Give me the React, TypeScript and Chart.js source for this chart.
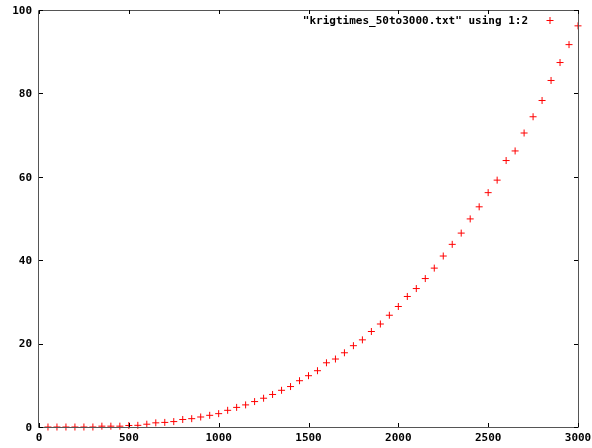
import React, { useEffect, useRef } from "react";
import { Chart, registerables } from "chart.js";

Chart.register(...registerables);

const xValues = [
  50, 100, 150, 200, 250, 300, 350, 400, 450, 500,
  550, 600, 650, 700, 750, 800, 850, 900, 950, 1000,
  1050, 1100, 1150, 1200, 1250, 1300, 1350, 1400, 1450, 1500,
  1550, 1600, 1650, 1700, 1750, 1800, 1850, 1900, 1950, 2000,
  2050, 2100, 2150, 2200, 2250, 2300, 2350, 2400, 2450, 2500,
  2550, 2600, 2650, 2700, 2750, 2800, 2850, 2900, 2950, 3000,
];
const yValues = [
  0.0, 0.0, 0.0, 0.0, 0.0, 0.0, 0.2, 0.2, 0.2, 0.36,
  0.4, 0.67, 1.0, 1.1, 1.3, 1.8, 2.0, 2.4, 2.8, 3.2,
  4.0, 4.7, 5.3, 6.1, 6.9, 7.8, 8.8, 9.7, 11.1, 12.3,
  13.5, 15.4, 16.3, 17.8, 19.5, 20.9, 22.9, 24.7, 26.8, 28.9,
  31.3, 33.2, 35.6, 38.1, 41.0, 43.8, 46.5, 49.9, 52.8, 56.2,
  59.2, 63.9, 66.2, 70.5, 74.4, 78.3, 83.1, 87.4, 91.7, 96.2,
];
const xTicks = [0, 500, 1000, 1500, 2000, 2500, 3000];
const yTicks = [0, 20, 40, 60, 80, 100];
const legendLabel = '"krigtimes_50to3000.txt" using 1:2';

const FONT = 'bold 11px "DejaVu Sans Mono", "Liberation Mono", monospace';

const framePlugin = {
  id: "gnuframe",
  afterDatasetsDraw(chart: any) {
    const { ctx, chartArea, scales } = chart;
    const { left, right, top, bottom } = chartArea;
    const xs = scales.x;
    const ys = scales.y;
    ctx.save();
    // border
    ctx.strokeStyle = "#555555";
    ctx.lineWidth = 1;
    ctx.beginPath();
    ctx.rect(Math.round(left) - 0.5, Math.round(top) + 0.5, Math.round(right - left) + 1, Math.round(bottom - top));
    ctx.stroke();
    // ticks
    ctx.strokeStyle = "#000000";
    ctx.beginPath();
    const tl = 4;
    xTicks.forEach((v) => {
      const px = Math.round(xs.getPixelForValue(v)) + 0.5;
      ctx.moveTo(px, bottom);
      ctx.lineTo(px, bottom - tl);
      ctx.moveTo(px, top);
      ctx.lineTo(px, top + tl);
    });
    yTicks.forEach((v) => {
      const py = Math.round(ys.getPixelForValue(v)) + 0.5;
      ctx.moveTo(left, py);
      ctx.lineTo(left + tl, py);
      ctx.moveTo(right, py);
      ctx.lineTo(right - tl, py);
    });
    ctx.stroke();
    // labels
    ctx.fillStyle = "#000000";
    ctx.font = FONT;
    ctx.textBaseline = "middle";
    ctx.textAlign = "right";
    yTicks.forEach((v) => {
      ctx.fillText(String(v), left - 7, ys.getPixelForValue(v) + 1);
    });
    ctx.textAlign = "center";
    ctx.textBaseline = "top";
    xTicks.forEach((v) => {
      ctx.fillText(String(v), xs.getPixelForValue(v), bottom + 6);
    });
    // legend
    ctx.textAlign = "right";
    ctx.textBaseline = "middle";
    ctx.fillText(legendLabel, 528, 21);
    ctx.strokeStyle = "#ff0000";
    ctx.beginPath();
    ctx.moveTo(546.5, 20.5);
    ctx.lineTo(553.5, 20.5);
    ctx.moveTo(550, 17);
    ctx.lineTo(550, 24);
    ctx.stroke();
    ctx.restore();
  },
};

export default function App() {
  const ref = useRef<HTMLCanvasElement | null>(null);
  useEffect(() => {
    document.body.style.margin = "0";
    const canvas = ref.current;
    if (!canvas) return;
    const chart = new Chart(canvas, {
      type: "scatter",
      data: {
        datasets: [
          {
            label: legendLabel,
            data: xValues.map((x, i) => ({ x, y: yValues[i] })),
            pointStyle: "cross",
            radius: 3.5,
            borderColor: "#ff0000",
            backgroundColor: "#ff0000",
            borderWidth: 1,
            clip: false as any,
          },
        ],
      },
      options: {
        responsive: false,
        animation: false,
        devicePixelRatio: 1,
        layout: { padding: { left: 39, right: 14, top: 10, bottom: 21 } },
        plugins: { legend: { display: false }, tooltip: { enabled: false } },
        scales: {
          x: { type: "linear", min: 0, max: 3000, display: false },
          y: { type: "linear", min: 0, max: 100, display: false },
        },
      },
      plugins: [framePlugin],
    });
    return () => chart.destroy();
  }, []);
  return (
    <div style={{ position: "fixed", left: 0, top: 0, width: 592, height: 448, background: "#fff" }}>
      <canvas ref={ref} width={592} height={448} style={{ display: "block" }} />
    </div>
  );
}
